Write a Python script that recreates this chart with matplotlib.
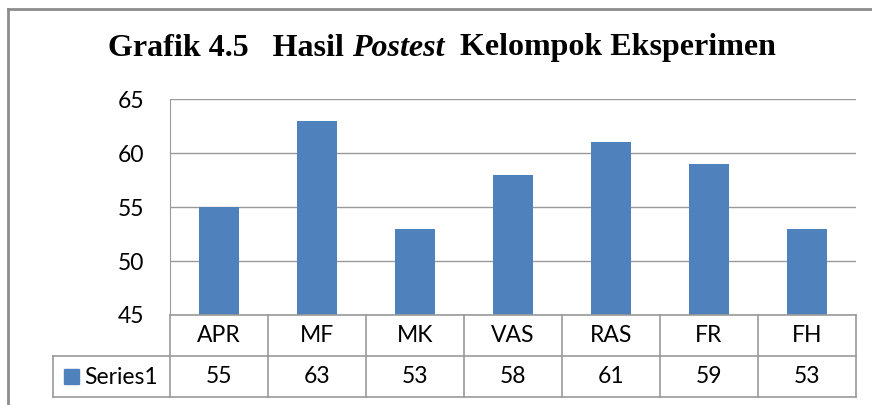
import matplotlib
matplotlib.use('Agg')
import matplotlib.pyplot as plt
from matplotlib.patches import Rectangle
from matplotlib.lines import Line2D

categories = ['APR', 'MF', 'MK', 'VAS', 'RAS', 'FR', 'FH']
values = [55, 63, 53, 58, 61, 59, 53]
series_name = 'Series1'
yticks = [45, 50, 55, 60, 65]
title_parts = [('Grafik 4.5   Hasil ', 'normal'), ('Postest', 'italic'), ('  Kelompok Eksperimen', 'normal')]

W, H = 872, 405
fig = plt.figure(figsize=(W / 100, H / 100), dpi=100)
fig.patch.set_facecolor('white')
ui_font = 'Lato'
fs = 16.5
grid_c = '#9A9A9A'
bar_c = '#4F81BD'


def px(x0, y0, x1, y1):
    return [x0 / W, 1 - y1 / H, (x1 - x0) / W, (y1 - y0) / H]


# outer chart frame
fig.add_artist(Line2D([8 / W, 8 / W], [0, 1 - 9 / H], color='#8C8C8C', lw=2))
fig.add_artist(Line2D([8 / W, 1], [1 - 9 / H, 1 - 9 / H], color='#8C8C8C', lw=2))

# title
renderer = fig.canvas.get_renderer()
pieces = []
total = 0
for txt, style in title_parts:
    t = fig.text(0, 0, txt, fontfamily='Liberation Serif', fontweight='bold',
                 fontstyle=style, fontsize=23, va='center', ha='left')
    w = t.get_window_extent(renderer).width
    pieces.append((t, w))
    total += w
x = 442 - total / 2
for t, w in pieces:
    t.set_position((x / W, 1 - 48 / H))
    x += w

# bar plot
ax = fig.add_axes(px(170, 99, 856, 315))
n = len(categories)
ax.bar(range(n), values, width=0.4, color=bar_c, zorder=3)
ax.set_xlim(-0.5, n - 0.5)
ax.set_ylim(yticks[0], yticks[-1])
ax.set_yticks(yticks)
ax.set_xticks([])
ax.yaxis.grid(True, color=grid_c, lw=1)
ax.set_axisbelow(True)
for s in ['top', 'right', 'bottom']:
    ax.spines[s].set_visible(False)
ax.spines['left'].set_color(grid_c)
ax.tick_params(axis='y', length=0, pad=18.5, labelsize=fs)
for lab in ax.get_yticklabels():
    lab.set_fontfamily(ui_font)

# data table
tax = fig.add_axes(px(170, 315, 856, 397))
tax.set_xlim(-0.5, n - 0.5)
tax.set_ylim(0, 2)
tax.axis('off')
cell_w = 686 / n
leg_left = -0.5 - (170 - 53) / cell_w
kw = dict(color=grid_c, lw=1.2, clip_on=False)
tax.plot([-0.5, n - 0.5], [2, 2], **kw)
tax.plot([leg_left, n - 0.5], [1, 1], **kw)
tax.plot([leg_left, n - 0.5], [0, 0], **kw)
tax.plot([leg_left, leg_left], [0, 1], **kw)
for i in range(n + 1):
    tax.plot([i - 0.5, i - 0.5], [0, 2], **kw)
for i, (c, v) in enumerate(zip(categories, values)):
    tax.text(i, 1.5, c, ha='center', va='center', fontsize=fs, fontfamily=ui_font)
    tax.text(i, 0.5, str(v), ha='center', va='center', fontsize=fs, fontfamily=ui_font)

fig.add_artist(Rectangle((64 / W, 1 - 384 / H), 15 / W, 15 / H, transform=fig.transFigure,
                         color=bar_c))
fig.text(84 / W, 1 - 377 / H, series_name, ha='left', va='center', fontsize=fs, fontfamily=ui_font)

fig.savefig('out.png', dpi=100)
